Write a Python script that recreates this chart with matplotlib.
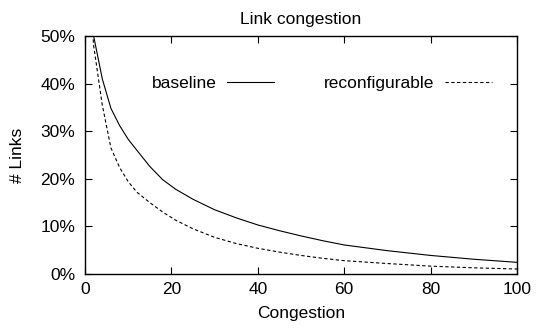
import matplotlib
matplotlib.use("Agg")
from matplotlib import pyplot as plt
from matplotlib.ticker import FuncFormatter

# congestion values (x) and share of links (%)
congestion = [1, 2, 4, 6, 8, 10, 12, 15, 18, 21, 25, 30, 35, 40, 45, 50, 55, 60, 70, 80, 90, 100]
baseline = [65, 50, 41, 34.8, 31.2, 28.3, 26.0, 22.6, 19.8, 17.8, 15.7, 13.5, 11.8, 10.3,
            9.1, 8.0, 7.0, 6.1, 4.9, 3.9, 3.1, 2.45]
reconfigurable = [60, 48, 35.5, 26.5, 22.4, 19.4, 17.2, 15.0, 13.0, 11.3, 9.5, 7.7, 6.4, 5.4,
                  4.6, 3.9, 3.3, 2.8, 2.2, 1.65, 1.3, 1.05]

x_ticks = [0, 20, 40, 60, 80, 100]
y_ticks = [0, 10, 20, 30, 40, 50]

plt.rcParams['font.family'] = ['Liberation Sans', 'DejaVu Sans']
plt.rcParams['font.size'] = 12.5

fig = plt.figure(figsize=(5.36, 3.29), dpi=100)
ax = fig.add_axes([85 / 536, 1 - 274 / 329, 432 / 536, 238 / 329])

ax.plot(congestion, baseline, color='black', lw=0.8, label='baseline')
ax.plot(congestion, reconfigurable, color='black', lw=0.8, linestyle=(0, (3, 2.2)),
        label='reconfigurable')

ax.set_xlim(0, 100)
ax.set_ylim(0, 50)
ax.set_xticks(x_ticks)
ax.set_yticks(y_ticks)
ax.yaxis.set_major_formatter(FuncFormatter(lambda v, p: '%d%%' % v))
ax.tick_params(direction='in', length=4.8, width=0.8, top=True, right=True)
ax.tick_params(axis='x', pad=5.5)
ax.tick_params(axis='y', pad=7)
for s in ax.spines.values():
    s.set_linewidth(1.0)

ax.set_title('Link congestion', fontsize=12.5, pad=8.5)
ax.set_xlabel('Congestion', labelpad=6.5)
ax.set_ylabel('# Links', labelpad=11)

ax.legend(loc='center right', bbox_to_anchor=(0.942, 0.80), ncol=2, frameon=False,
          markerfirst=False, handlelength=2.7, handletextpad=0.63, columnspacing=2.85,
          borderpad=0, borderaxespad=0)

fig.savefig('out.png', dpi=100)
